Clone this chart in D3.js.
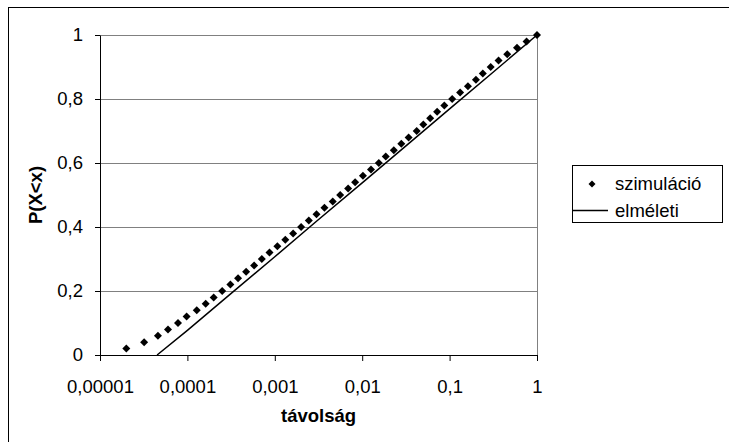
<!DOCTYPE html>
<html>
<head>
<meta charset="utf-8">
<script src="https://cdn.jsdelivr.net/npm/d3@7"></script>
<style>
  body { margin: 0; background: #fff; }
  svg { display: block; font-family: Arial, "Liberation Sans", sans-serif; }
</style>
</head>
<body>
<script>
// simulation: x (távolság) values, P(X<x) values
var simX = [2.0e-5, 3.2e-5, 4.6e-5, 6.0e-5, 7.8e-5, 9.8e-5, 1.28e-4, 1.62e-4, 2.0e-4, 2.5e-4,
            3.1e-4, 3.8e-4, 4.7e-4, 5.8e-4, 7.1e-4, 8.7e-4, 1.07e-3, 1.32e-3, 1.62e-3, 2.0e-3,
            2.45e-3, 3.0e-3, 3.7e-3, 4.6e-3, 5.6e-3, 6.9e-3, 8.3e-3, 0.0102, 0.0126, 0.0155,
            0.0186, 0.023, 0.028, 0.034, 0.042, 0.050, 0.060, 0.072, 0.087, 0.107,
            0.132, 0.162, 0.20, 0.24, 0.295, 0.363, 0.457, 0.59, 0.76, 1];
var simP = [0.02, 0.04, 0.06, 0.08, 0.10, 0.12, 0.14, 0.16, 0.18, 0.20,
            0.22, 0.24, 0.26, 0.28, 0.30, 0.32, 0.34, 0.36, 0.38, 0.40,
            0.42, 0.44, 0.46, 0.48, 0.50, 0.52, 0.54, 0.56, 0.58, 0.60,
            0.62, 0.64, 0.66, 0.68, 0.70, 0.72, 0.74, 0.76, 0.78, 0.80,
            0.82, 0.84, 0.86, 0.88, 0.90, 0.92, 0.94, 0.96, 0.98, 1.00];

// theoretical curve
var theoX = [4.5e-5, 1e-4, 3e-4, 1e-3, 3e-3, 0.01, 0.03, 0.1, 0.3, 1];
var theoP = [0, 0.077, 0.187, 0.307, 0.418, 0.538, 0.648, 0.769, 0.879, 1];

var xTicks = [1e-5, 1e-4, 1e-3, 1e-2, 1e-1, 1];
var xTickLabels = ["0,00001", "0,0001", "0,001", "0,01", "0,1", "1"];
var yTicks = [0, 0.2, 0.4, 0.6, 0.8, 1];
var yTickLabels = ["0", "0,2", "0,4", "0,6", "0,8", "1"];

var seriesNames = ["szimuláció", "elméleti"];

(function () {
  var width = 729, height = 442;
  var pLeft = 100, pRight = 537, pTop = 35, pBottom = 355;
  var fontSize = "18.5px";

  var svg = d3.select("body").append("svg")
    .attr("width", width)
    .attr("height", height);

  // chart border (only left/top visible in frame)
  svg.append("rect")
    .attr("x", 8.5).attr("y", 7.5)
    .attr("width", 740).attr("height", 460)
    .attr("fill", "#fff")
    .attr("stroke", "#000");

  var x = d3.scaleLog().domain([1e-5, 1]).range([pLeft, pRight]);
  var y = d3.scaleLinear().domain([0, 1]).range([pBottom, pTop]);

  // gridlines
  svg.append("g").selectAll("line")
    .data(yTicks.slice(1))
    .enter().append("line")
    .attr("x1", pLeft).attr("x2", pRight)
    .attr("y1", function (d) { return Math.round(y(d)) + 0.5; })
    .attr("y2", function (d) { return Math.round(y(d)) + 0.5; })
    .attr("stroke", "#808080");

  // plot area right edge
  svg.append("line")
    .attr("x1", pRight + 0.5).attr("x2", pRight + 0.5)
    .attr("y1", pTop).attr("y2", pBottom)
    .attr("stroke", "#808080");

  // axes
  var xAxis = d3.axisBottom(x)
    .tickValues(xTicks)
    .tickFormat(function (d, i) { return xTickLabels[i]; })
    .tickSizeInner(6).tickSizeOuter(0).tickPadding(19);

  var yAxis = d3.axisLeft(y)
    .tickValues(yTicks)
    .tickFormat(function (d, i) { return yTickLabels[i]; })
    .tickSizeInner(5).tickSizeOuter(0).tickPadding(12);

  var gx = svg.append("g")
    .attr("transform", "translate(0," + pBottom + ")")
    .call(xAxis);
  var gy = svg.append("g")
    .attr("transform", "translate(" + pLeft + ",0)")
    .call(yAxis);

  [gx, gy].forEach(function (g) {
    g.selectAll("path, line").attr("stroke", "#000");
    g.selectAll("text")
      .attr("fill", "#000")
      .style("font-size", fontSize)
      .style("font-family", "Arial, 'Liberation Sans', sans-serif");
  });

  // theoretical line
  var line = d3.line()
    .x(function (d) { return x(d[0]); })
    .y(function (d) { return y(d[1]); });

  svg.append("path")
    .datum(d3.zip(theoX, theoP))
    .attr("d", line)
    .attr("fill", "none")
    .attr("stroke", "#000")
    .attr("stroke-width", 1.5);

  // simulation diamonds
  var diamond = "M0,-4L4,0L0,4L-4,0Z";
  svg.append("g").selectAll("path")
    .data(d3.zip(simX, simP))
    .enter().append("path")
    .attr("d", diamond)
    .attr("transform", function (d) { return "translate(" + x(d[0]) + "," + y(d[1]) + ")"; })
    .attr("fill", "#000");

  // axis titles
  svg.append("text")
    .attr("x", (pLeft + pRight) / 2)
    .attr("y", 422)
    .attr("text-anchor", "middle")
    .style("font-size", fontSize)
    .style("font-weight", "bold")
    .text("távolság");

  svg.append("text")
    .attr("transform", "translate(42," + (pTop + pBottom) / 2 + ") rotate(-90)")
    .attr("text-anchor", "middle")
    .style("font-size", fontSize)
    .style("font-weight", "bold")
    .text("P(X<x)");

  // legend
  var lg = svg.append("g");
  lg.append("rect")
    .attr("x", 572.5).attr("y", 165.5)
    .attr("width", 150).attr("height", 57)
    .attr("fill", "#fff")
    .attr("stroke", "#000");

  lg.append("path")
    .attr("d", "M0,-3.5L3.5,0L0,3.5L-3.5,0Z")
    .attr("transform", "translate(592,184)")
    .attr("fill", "#000");

  lg.append("line")
    .attr("x1", 573).attr("x2", 608)
    .attr("y1", 210.5).attr("y2", 210.5)
    .attr("stroke", "#000")
    .attr("stroke-width", 1.5);

  lg.selectAll("text")
    .data(seriesNames)
    .enter().append("text")
    .attr("x", 615)
    .attr("y", function (d, i) { return 190 + i * 26.5; })
    .style("font-size", fontSize)
    .text(function (d) { return d; });
})();
</script>
</body>
</html>
